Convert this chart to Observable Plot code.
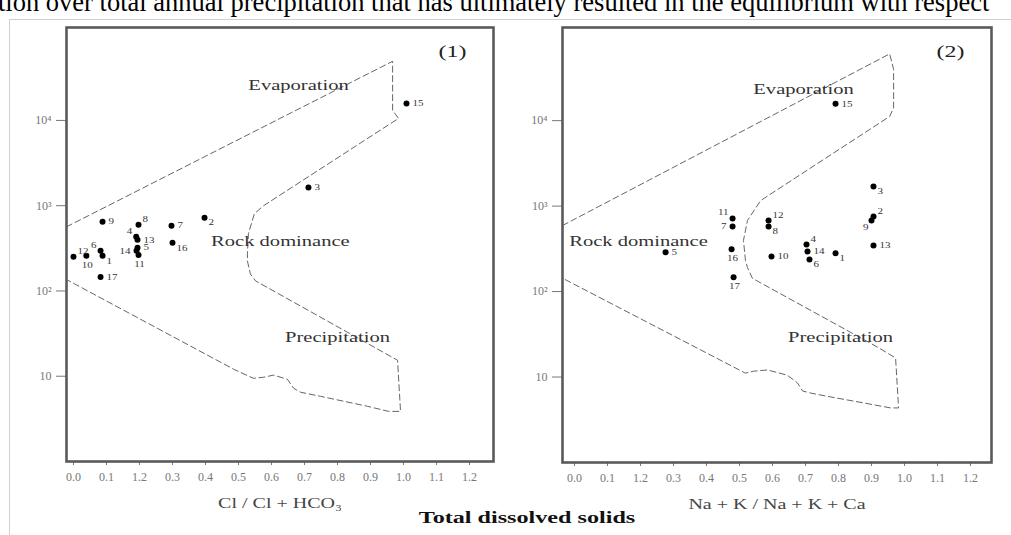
<!DOCTYPE html>
<html>
<head>
<meta charset="utf-8">
<script src="https://cdn.jsdelivr.net/npm/d3@7"></script>
<script src="https://cdn.jsdelivr.net/npm/@observablehq/plot@0.6"></script>
<style>
  html, body { margin: 0; padding: 0; background: #fff; }
  #page { position: relative; width: 1011px; height: 535px; overflow: hidden; background: #fff; font-family: "Liberation Serif", serif; }
  #toptext { position: absolute; left: -2px; top: -11px; font-size: 26.5px; line-height: 26.5px; white-space: nowrap; color: #000; }
  #vline { position: absolute; left: 9px; top: 19px; width: 1px; height: 540px; background: #d0d0d0; }
  #hline { position: absolute; left: 9px; top: 19px; width: 1010px; height: 1px; background: #d0d0d0; }
  #tds { position: absolute; left: 527px; top: 506px; transform: translateX(-50%) scaleX(1.42); white-space: nowrap;
         font-size: 17px; line-height: 24px; font-weight: bold; color: #111; }
  .panel { position: absolute; top: 0; }
</style>
</head>
<body>
<div id="page">
  <div id="toptext">tion over total annual precipitation that has ultimately resulted in the equilibrium with respect</div>
  <div id="vline"></div>
  <div id="hline"></div>
  <div id="tds">Total dissolved solids</div>
</div>
<script>
// ---------- data ----------
const xTicks = [0, 0.1, 0.2, 0.3, 0.4, 0.5, 0.6, 0.7, 0.8, 0.9, 1.0, 1.1, 1.2];
const xTickLabels = ["0.0", "0.1", "1.2", "0.3", "0.4", "0.5", "0.6", "0.7", "0.8", "0.9", "1.0", "1.1", "1.2"];
const yTicks = [10, 100, 1000, 10000];
const yTickLabels = ["10", "10²", "10³", "10⁴"];

// Panel 1: Cl / (Cl + HCO3) vs TDS
const samples1 = ["1","2","3","4","5","6","7","8","9","10","11","12","13","14","15","16","17"];
const ratio1 = [0.088, 0.397, 0.712, 0.190, 0.194, 0.082, 0.297, 0.197, 0.088, 0.039, 0.197, 0.000, 0.194, 0.191, 1.009, 0.300, 0.082];
const tds1   = [258, 722, 1630, 432, 321, 296, 582, 598, 648, 258, 265, 252, 398, 296, 15850, 367, 146];
const labelPos1 = ["lr","lr","r","ul","r","ul","r","ur","r","b","b","ur","r","l","r","lr","r"];

// Panel 2: (Na + K) / (Na + K + Ca) vs TDS
const samples2 = ["1","2","3","4","5","6","7","8","9","10","11","12","13","14","15","16","17"];
const ratio2 = [0.791, 0.906, 0.906, 0.703, 0.276, 0.712, 0.479, 0.588, 0.900, 0.597, 0.479, 0.588, 0.906, 0.706, 0.791, 0.476, 0.482];
const tds2   = [280, 757, 1694, 356, 288, 238, 578, 578, 679, 258, 716, 679, 347, 295, 15740, 312, 147];
const labelPos2 = ["lr","ur","lr","ur","r","lr","l","lr","ll","r","ul","ur","r","r","r","b","b"];

// Gibbs boundary (dashed envelope), [ratio, TDS]
const boundary1 = [
  [-0.021, 566], [0.967, 49400], [0.967, 13120], [0.985, 10570], [0.576, 1000], [0.548, 805],
  [0.530, 469], [0.527, 272], [0.527, 225], [0.536, 158], [0.552, 131], [0.982, 15.4],
  [0.991, 3.87], [0.955, 3.87], [0.891, 4.44], [0.748, 5.82], [0.688, 6.49], [0.667, 7.23],
  [0.648, 9.23], [0.606, 10.3], [0.576, 9.73], [0.545, 9.46], [0.485, 12.1], [-0.021, 136]
];
const boundary2 = [
  [-0.036, 594], [0.955, 60400], [0.967, 39800], [0.967, 14100], [0.955, 11200], [0.564, 1161],
  [0.524, 679], [0.512, 397], [0.518, 232], [0.524, 192], [0.539, 143], [0.918, 22.4],
  [0.973, 16.7], [0.982, 4.35], [0.958, 4.35], [0.876, 4.98], [0.776, 5.85], [0.715, 6.5],
  [0.691, 6.87], [0.676, 8.51], [0.645, 10.5], [0.585, 12.1], [0.542, 11.7], [0.518, 11.1], [-0.036, 143]
];

const regionNames = ["Evaporation", "Rock dominance", "Precipitation"];
const regionX1 = [0.682, 0.627, 0.800];
const regionTds1 = [25700, 387, 28.8];
const regionX2 = [0.694, 0.194, 0.806];
const regionTds2 = [23560, 386, 29.3];

const panelTags = ["(1)", "(2)"];
const xTitles = ["Cl / Cl + HCO₃", "Na + K / Na + K + Ca"];

// ---------- drawing ----------
const labelStyle = {
  r:  {dx: 6,  dy: 0,  textAnchor: "start"},
  ur: {dx: 4,  dy: -5, textAnchor: "start"},
  lr: {dx: 4,  dy: 5,  textAnchor: "start"},
  ul: {dx: -4, dy: -6, textAnchor: "end"},
  l:  {dx: -6, dy: 0,  textAnchor: "end"},
  ll: {dx: -3, dy: 7,  textAnchor: "end"},
  b:  {dx: 1,  dy: 9,  textAnchor: "middle"}
};

// widen text horizontally about its own anchor (the reference figure is stretched sideways)
function stretchText(svg, tag, s) {
  svg.querySelectorAll(`g[aria-description="${tag}"] text`).forEach(t => {
    const x = parseFloat(t.getAttribute("x")) || 0;
    const tr = t.getAttribute("transform") || "";
    t.setAttribute("transform", `${tr} translate(${x},0) scale(${s},1) translate(${-x},0)`.trim());
  });
}

function makePanel(cfg) {
  const pts = cfg.samples.map((s, i) => ({s, x: cfg.ratio[i], y: cfg.tds[i], pos: cfg.labelPos[i]}));
  const regions = regionNames.map((n, i) => ({n, x: cfg.regionX[i], y: cfg.regionTds[i]}));
  const labelMarks = Object.keys(labelStyle).map(k =>
    Plot.text(pts.filter(d => d.pos === k), {
      x: "x", y: "y", text: "s", fontSize: 8.5, fill: "#333",
      lineAnchor: "middle", ariaDescription: "sample-label", ...labelStyle[k]
    })
  );
  const svg = Plot.plot({
    width: cfg.width, height: 535,
    marginLeft: cfg.ml, marginRight: cfg.mr, marginTop: 27, marginBottom: cfg.mb,
    style: {fontFamily: "Liberation Serif, serif", background: "transparent", overflow: "visible"},
    x: {domain: cfg.xDomain},
    y: {type: "log", domain: [1, 123000]},
    marks: [
      Plot.axisX({ticks: xTicks, tickFormat: d => xTickLabels[xTicks.indexOf(d)], tickSize: 4, tickPadding: 7,
                  fontSize: 12, color: "#777", label: null}),
      Plot.axisY({ticks: yTicks, tickFormat: d => yTickLabels[yTicks.indexOf(d)], tickSize: 10, tickPadding: 5,
                  fontSize: 12, color: "#777", label: null}),
      Plot.line(cfg.boundary, {x: d => d[0], y: d => d[1], stroke: "#666", strokeWidth: 1,
                               strokeDasharray: "6,3.5", clip: true}),
      Plot.dot(pts, {x: "x", y: "y", r: 3, fill: "#000", stroke: "none"}),
      ...labelMarks,
      Plot.text(regions, {x: "x", y: "y", text: "n", fontSize: 15, fill: "#333", lineAnchor: "middle",
                          ariaDescription: "region"}),
      Plot.text([cfg.tag], {frameAnchor: "top-right", dx: -41, dy: 24, fontSize: 16.5, fill: "#222",
                            textAnchor: "middle", lineAnchor: "middle", ariaDescription: "tag"}),
      Plot.text([cfg.xTitle], {frameAnchor: "bottom", dy: 42, fontSize: 14.5, fill: "#444",
                               textAnchor: "middle", lineAnchor: "middle", ariaDescription: "xtitle"}),
      Plot.frame({stroke: "#5a5a5a", strokeWidth: 2.6})
    ]
  });
  stretchText(svg, "region", 1.37);
  stretchText(svg, "xtitle", 1.38);
  stretchText(svg, "tag", 1.45);
  stretchText(svg, "sample-label", 1.3);
  return svg;
}

const page = document.getElementById("page");

const p1 = makePanel({
  width: 505, ml: 66, mr: 12, mb: 74, xDomain: [-0.0212, 1.2727],
  samples: samples1, ratio: ratio1, tds: tds1, labelPos: labelPos1,
  boundary: boundary1, regionX: regionX1, regionTds: regionTds1,
  tag: panelTags[0], xTitle: xTitles[0]
});
p1.classList.add("panel");
p1.style.left = "0px";
page.appendChild(p1);

const p2 = makePanel({
  width: 506, ml: 57, mr: 20, mb: 73, xDomain: [-0.0364, 1.2636],
  samples: samples2, ratio: ratio2, tds: tds2, labelPos: labelPos2,
  boundary: boundary2, regionX: regionX2, regionTds: regionTds2,
  tag: panelTags[1], xTitle: xTitles[1]
});
p2.classList.add("panel");
p2.style.left = "505px";
page.appendChild(p2);
</script>
</body>
</html>
